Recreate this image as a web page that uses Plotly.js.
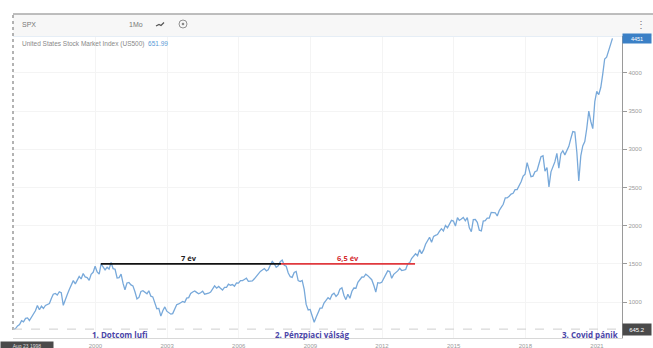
<!DOCTYPE html>
<html>
<head>
<meta charset="utf-8">
<script src="https://cdn.plot.ly/plotly-3.0.1.min.js"></script>
<style>
html,body{margin:0;padding:0;background:#fff;}
#chart{width:653px;height:348px;}
</style>
</head>
<body>
<div id="chart"></div>
<script>
// ---- Data (monthly closes, read/estimated) ----
const startYear = 1996, startMonth = 7; // July 1996
const spxValues = [
 640,652,687,705,757,741,
 786,791,757,801,848,885,954,899,947,915,955,970,
 980,1049,1102,1112,1091,1134,1121,957,1017,1099,1164,1229,
 1280,1238,1286,1335,1302,1373,1329,1320,1283,1363,1389,1469,
 1394,1366,1499,1452,1421,1455,1431,1518,1437,1429,1315,1320,
 1366,1240,1160,1249,1256,1224,1211,1134,1041,1060,1139,1148,
 1130,1107,1147,1077,1067,990,912,916,815,886,936,880,
 856,841,848,917,964,975,990,1008,996,1051,1058,1112,
 1131,1145,1126,1107,1121,1141,1102,1104,1115,1130,1174,1212,
 1181,1204,1181,1157,1192,1191,1234,1220,1229,1207,1249,1248,
 1280,1281,1295,1311,1270,1270,1277,1304,1336,1378,1401,1418,
 1438,1407,1421,1482,1531,1503,1455,1474,1527,1549,1481,1468,
 1379,1331,1323,1386,1400,1280,1267,1283,1166,969,896,903,
 826,735,798,873,919,919,987,1021,1057,1036,1096,1115,
 1074,1104,1169,1187,1089,1031,1102,1049,1141,1183,1181,1258,
 1286,1327,1326,1364,1345,1321,1292,1219,1131,1253,1247,1258,
 1312,1366,1408,1398,1310,1362,1379,1407,1441,1412,1416,1426,
 1498,1515,1569,1598,1631,1606,1686,1633,1682,1757,1806,1848,
 1783,1859,1872,1884,1924,1960,1931,2003,1972,2018,2068,2059,
 1995,2105,2068,2086,2107,2063,2104,1972,1920,2079,2080,2044,
 1940,1932,2060,2065,2097,2099,2174,2171,2168,2126,2199,2239,
 2279,2364,2363,2384,2412,2423,2470,2472,2519,2575,2648,2674,
 2824,2714,2641,2648,2705,2718,2816,2902,2914,2712,2760,2507,
 2704,2784,2834,2946,2752,2942,2980,2926,2977,3038,3141,3231,
 3226,2954,2585,2912,3044,3100,3271,3500,3363,3270,3622,3756,
 3714,3811,3973,4181,4204,4298,4395,4451
];
const tickYears = [2000,2003,2006,2009,2012,2015,2018,2021];
const yTicks = [1000,1500,2000,2500,3000,3500,4000];
const lastValue = 4451;
const lowValue = 645.2;
const dotcomPeakDate = "2000-03-24";
const gfcPeakDate = "2007-10-09";
const recoveryDate = "2013-05-20";
const recoveryLevel = 1500;

// build dates (month ends)
const dates = spxValues.map((v,i)=>{
  const m0 = startMonth - 1 + i;
  const y = startYear + Math.floor(m0/12);
  const m = (m0 % 12) + 1;
  const day = (i === spxValues.length-1) ? 25 : 28;
  return y + "-" + String(m).padStart(2,"0") + "-" + day;
});

// pixel -> paper helpers (plot area 13..622 x 36..338)
const L=13, R=622, T=36, B=338;
const px = x => (x-L)/(R-L);
const py = y => (B-y)/(B-T);

const trace = {
  x: dates, y: spxValues, type: "scatter", mode: "lines",
  line: {color: "#78a9da", width: 1.3}, hoverinfo: "skip"
};

const gray = "#8a8a8a";
const layout = {
  width: 653, height: 348,
  margin: {l: L, r: 653-R, t: T, b: 348-B},
  paper_bgcolor: "#fff", plot_bgcolor: "#fff",
  showlegend: false,
  font: {family: "Liberation Sans, Arial, sans-serif", color: gray},
  xaxis: {
    type: "date",
    range: ["1996-07-20", "2022-01-18"],
    tickvals: tickYears.map(y => y + "-01-01"),
    ticktext: tickYears.map(String),
    tickfont: {size: 6, color: "#9a9a9a"},
    showgrid: true, gridcolor: "#f4f4f4",
    zeroline: false, showline: true, linecolor: "#d8d8d8", linewidth: 1,
    ticks: "", ticklabelstandoff: 2
  },
  yaxis: {
    side: "right",
    range: [529, 4482],
    tickvals: yTicks,
    ticktext: yTicks.map(String),
    tickfont: {size: 6, color: "#9a9a9a"},
    ticks: "outside", ticklen: 4, tickcolor: "#9a9a9a",
    showline: true, linecolor: "#9a9a9a", linewidth: 1.2,
    showgrid: true, gridcolor: "#f4f4f4", zeroline: false
  },
  shapes: [
    {type:"rect", xref:"paper", yref:"paper", x0:px(13), x1:px(653), y0:py(36), y1:py(14),
     fillcolor:"#f7f7f7", line:{width:0}, layer:"below"},
    {type:"line", xref:"paper", yref:"paper", x0:px(13), x1:px(653), y0:py(14), y1:py(14),
     line:{color:"#a8a8a8", width:1.5}},
    {type:"line", xref:"paper", yref:"paper", x0:px(13), x1:px(622), y0:py(36.5), y1:py(36.5),
     line:{color:"#e6eef6", width:1}},
    {type:"line", xref:"paper", yref:"paper", x0:px(13), x1:px(13), y0:py(330), y1:py(14),
     line:{color:"#9a9a9a", width:1.5, dash:"dot"}},
    {type:"line", xref:"paper", yref:"y", x0:0, x1:1, y0:lowValue, y1:lowValue,
     line:{color:"#cfcfcf", width:1, dash:"dash"}},
    {type:"line", xref:"x", yref:"y", x0:dotcomPeakDate, x1:gfcPeakDate, y0:recoveryLevel, y1:recoveryLevel,
     line:{color:"#111", width:1.8}},
    {type:"line", xref:"x", yref:"y", x0:gfcPeakDate, x1:recoveryDate, y0:recoveryLevel, y1:recoveryLevel,
     line:{color:"#e0393e", width:1.8}},
    {type:"path", xref:"paper", yref:"paper",
     path:`M ${px(156)} ${py(26)} L ${px(159)} ${py(24.5)} L ${px(161)} ${py(25.5)} L ${px(164)} ${py(22.5)}`,
     line:{color:"#555", width:1.2}},
    {type:"circle", xref:"paper", yref:"paper", x0:px(179), x1:px(187), y0:py(28), y1:py(20),
     line:{color:"#777", width:0.8}},
    {type:"circle", xref:"paper", yref:"paper", x0:px(182), x1:px(184), y0:py(25), y1:py(23),
     fillcolor:"#777", line:{color:"#777", width:0.5}}
  ],
  annotations: [
    {xref:"paper", yref:"paper", x:px(20), y:py(24.5), xanchor:"left", yanchor:"middle",
     text:"SPX", showarrow:false, font:{size:7, color:"#777"}},
    {xref:"paper", yref:"paper", x:px(127), y:py(24.5), xanchor:"left", yanchor:"middle",
     text:"1Mo", showarrow:false, font:{size:7, color:"#777"}},
    {xref:"paper", yref:"paper", x:px(641), y:py(24.5), xanchor:"center", yanchor:"middle",
     text:"⋮", showarrow:false, font:{size:10, color:"#777"}},
    {xref:"paper", yref:"paper", x:px(20), y:py(44), xanchor:"left", yanchor:"middle",
     text:"United States Stock Market Index (US500)  <span style='color:#5a9ad6'>651.99</span>",
     showarrow:false, font:{size:6.5, color:"#888"}},
    {xref:"x", yref:"y", x:"2003-12-01", y:recoveryLevel, yshift:6, xanchor:"center",
     text:"<b>7 év</b>", showarrow:false, font:{size:7.5, color:"#222", family:"Open Sans, sans-serif"}},
    {xref:"x", yref:"y", x:"2010-08-01", y:recoveryLevel, yshift:6, xanchor:"center",
     text:"<b>6,5 év</b>", showarrow:false, font:{size:7.5, color:"#d42c30", family:"Open Sans, sans-serif"}},
    {xref:"paper", yref:"paper", x:px(120), y:py(334.5), xanchor:"center", yanchor:"middle",
     text:"<b>1. Dotcom lufi</b>", showarrow:false, font:{size:8, color:"#4a45a8", family:"Open Sans, sans-serif"}},
    {xref:"paper", yref:"paper", x:px(312), y:py(334.5), xanchor:"center", yanchor:"middle",
     text:"<b>2. Pénzpiaci válság</b>", showarrow:false, font:{size:8, color:"#4a45a8", family:"Open Sans, sans-serif"}},
    {xref:"paper", yref:"paper", x:px(590), y:py(334.5), xanchor:"center", yanchor:"middle",
     text:"<b>3. Covid pánik</b>", showarrow:false, font:{size:8, color:"#4a45a8", family:"Open Sans, sans-serif"}},
    {xref:"paper", yref:"y", x:1, y:lastValue, xanchor:"left", yanchor:"middle",
     text:"4451", showarrow:false, bgcolor:"#3b80c6", width:26, height:7,
     font:{size:5.5, color:"#fff"}},
    {xref:"paper", yref:"y", x:1, y:lowValue, xanchor:"left", yanchor:"middle",
     text:"645.2", showarrow:false, bgcolor:"#4a4a4a", width:26, height:9,
     font:{size:6, color:"#fff"}},
    {xref:"paper", yref:"paper", x:px(0), y:py(340.5), xanchor:"left", yanchor:"top",
     text:"Aug 23 1998", showarrow:false, bgcolor:"#4a4a4a", width:52, height:7, borderpad:0,
     font:{size:5, color:"#ddd"}}
  ]
};

Plotly.newPlot("chart", [trace], layout, {staticPlot: true, displayModeBar: false});
</script>
</body>
</html>
